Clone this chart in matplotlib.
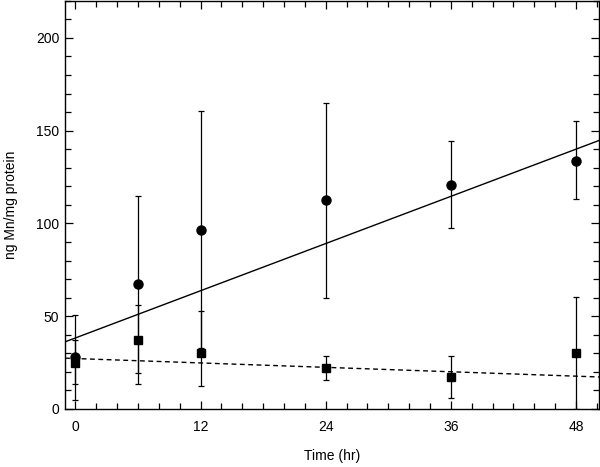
import numpy as np
import matplotlib
matplotlib.use('Agg')
import matplotlib.pyplot as plt
from matplotlib.ticker import MultipleLocator

plt.rcParams['font.family'] = ['Liberation Sans', 'DejaVu Sans']

# time points (hr)
time_hr = [0, 6, 12, 24, 36, 48]

# circles (upper series)
circ_mean = [28.0, 67.6, 96.6, 112.4, 120.6, 133.9]
circ_lo = [5.0, 19.5, 32.8, 59.9, 97.5, 113.3]
circ_hi = [50.7, 114.7, 160.4, 165.0, 144.3, 155.0]

# squares (lower series)
sq_mean = [25.0, 37.1, 30.0, 22.2, 17.0, 30.3]
sq_lo = [13.3, 13.3, 12.4, 15.6, 5.7, 0.0]
sq_hi = [37.0, 55.9, 53.0, 28.7, 28.7, 60.4]

# fitted lines: intercept, slope
fit_circ = (38.3, 2.12)
fit_sq = (27.2, -0.198)

fig = plt.figure(figsize=(6.0, 4.67), dpi=100)
ax = fig.add_axes([0.1083, 0.1242, 0.8900, 0.874])

xs = np.array([-1.0, 50.2])
ax.plot(xs, fit_circ[0] + fit_circ[1] * xs, color='black', lw=1.0)
ax.plot(xs, fit_sq[0] + fit_sq[1] * xs, color='black', lw=1.0,
        linestyle=(0, (3.5, 2.5)))

def yerr(mean, lo, hi):
    m = np.array(mean)
    return [m - np.array(lo), np.array(hi) - m]

ax.errorbar(time_hr, sq_mean, yerr=yerr(sq_mean, sq_lo, sq_hi), fmt='s',
            color='black', ms=6, ecolor='black', elinewidth=0.9, capsize=2.5,
            capthick=0.9)
ax.errorbar(time_hr, circ_mean, yerr=yerr(circ_mean, circ_lo, circ_hi), fmt='o',
            color='black', ms=6.5, ecolor='black', elinewidth=0.9, capsize=2.5,
            capthick=0.9)

ax.set_xlim(-1, 50.2)
ax.set_ylim(0, 220)
ax.xaxis.set_major_locator(MultipleLocator(12))
ax.xaxis.set_minor_locator(MultipleLocator(2))
ax.yaxis.set_major_locator(MultipleLocator(50))
ax.yaxis.set_minor_locator(MultipleLocator(10))
ax.tick_params(which='both', direction='in', top=True, right=True,
               labelsize=10, width=0.9)
ax.tick_params(which='major', length=6)
ax.tick_params(which='minor', length=4.5)
ax.tick_params(axis='x', which='major', pad=8)
ax.tick_params(axis='y', which='major', pad=4)
for s in ax.spines.values():
    s.set_linewidth(1.0)

ax.set_xlabel('Time (hr)', fontsize=10, labelpad=10.5)
ax.set_ylabel('ng Mn/mg protein', fontsize=10, labelpad=13)

fig.savefig('out.png', dpi=100)
